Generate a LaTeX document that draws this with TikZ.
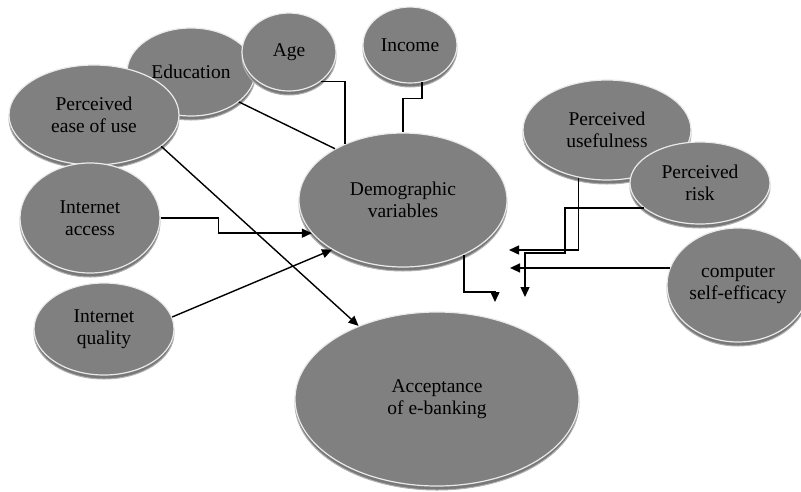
\documentclass[tikz,border=0pt]{standalone}
\usepackage{fontspec}
\setmainfont{Liberation Serif}
\usetikzlibrary{shapes.geometric,shadows,arrows.meta}
\definecolor{discgray}{HTML}{808080}
\definecolor{discrim}{HTML}{EAEAEA}
\definecolor{bandgray}{HTML}{787878}
\definecolor{bandrim}{HTML}{B0B0B0}
\begin{document}
\begin{tikzpicture}[x=1pt,y=-1pt,
  disc/.style={ellipse, inner sep=0pt, fill=discgray, draw=discrim, line width=1.2pt,
    align=center, font=\fontsize{19.5}{22}\selectfont,
    copy shadow={shadow xshift=0pt, shadow yshift=-4pt, fill=bandgray, draw=bandrim, line width=1pt}},
  conn/.style={line width=1.4pt, draw=black},
  arr/.style={conn, -{Triangle[length=10pt,width=9pt]}}]
\useasboundingbox (0,0) rectangle (801,491);

\node[disc, minimum width=128pt, minimum height=88pt] (edu) at (191,72) {Education};
\node[disc, minimum width=94pt, minimum height=78pt] (age) at (289,52) {Age};
\node[disc, minimum width=94pt, minimum height=76pt] (income) at (410,45) {Income};
\node[disc, minimum width=170pt, minimum height=100pt] (ease) at (94,115) {Perceived\\ease of use};
\node[disc, minimum width=140pt, minimum height=110pt] (access) at (90,218) {Internet\\access};
\node[disc, minimum width=208pt, minimum height=134pt] (demo) at (403,200) {Demographic\\variables};
\node[disc, minimum width=168pt, minimum height=100pt] (useful) at (607,130) {Perceived\\usefulness};
\node[disc, minimum width=140pt, minimum height=82pt] (risk) at (700,183) {Perceived\\risk};
\node[disc, minimum width=142pt, minimum height=114pt] (eff) at (738,285) {computer\\self-efficacy};
\node[disc, minimum width=140pt, minimum height=92pt] (quality) at (104,329) {Internet\\quality};
\node[disc, minimum width=284pt, minimum height=174pt] (accept) at (437,399) {Acceptance\\of e-banking};

\coordinate (dEnd) at (495,302);
\coordinate (uEnd) at (509,250);
\coordinate (rEnd) at (525,297);
\coordinate (eEnd) at (510,268);

% connectors
\draw[arr] (access.east) -- ++(58,0) |- (demo.200);
\draw[arr] (quality.10) -- (demo.215);
\draw[arr] (ease.-25) -- (accept.137);
\draw[conn] (edu.-32) -- (demo.143);
\draw[conn] (age.-43) -| (demo.136);
\draw[conn] (income.-72) -- ++(0,16) -| (demo.north);
\draw[arr] (demo.-42) -- ++(0,37) -| (dEnd);
\draw[arr] (useful.239) |- (uEnd);
\draw[arr] (risk.204) -| (565,253) -| (rEnd);
\draw[arr] (eff.166) -- (eff.166 -| eEnd);
\end{tikzpicture}
\end{document}
